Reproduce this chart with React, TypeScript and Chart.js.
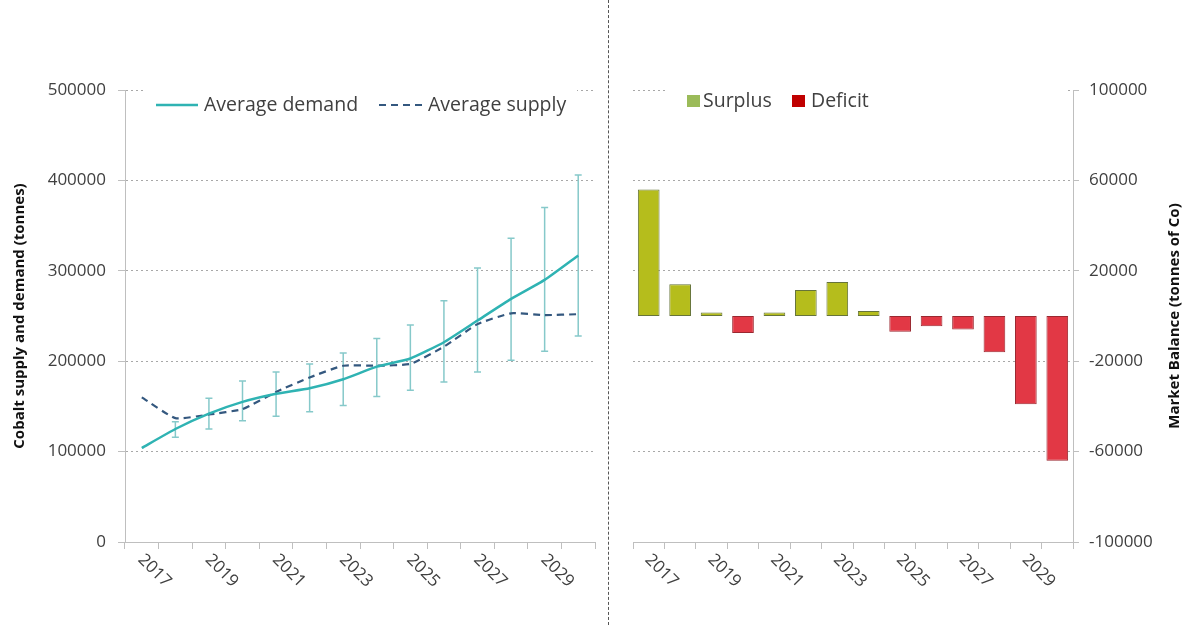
import React, { useEffect, useRef } from "react";
import { Chart, registerables } from "chart.js";

Chart.register(...registerables);

// ---------- data ----------
const years = ["2017", "2018", "2019", "2020", "2021", "2022", "2023", "2024", "2025", "2026", "2027", "2028", "2029", "2030"];
const shownYears = ["2017", "2019", "2021", "2023", "2025", "2027", "2029"];

const demand = [104000, 125000, 142000, 155000, 164000, 170000, 180000, 194000, 203000, 221000, 245000, 269000, 290000, 317000];
const supply = [160000, 137000, 141000, 147000, 166000, 182000, 195000, 195000, 197000, 216000, 241000, 253000, 251000, 252000];
const errLow = [null, 116000, 125000, 134000, 139000, 144000, 151000, 161000, 168000, 177000, 188000, 201000, 211000, 228000];
const errHigh = [null, 133000, 159000, 178000, 188000, 197000, 209000, 225000, 240000, 267000, 303000, 336000, 370000, 406000];

const balance = [56000, 14000, 1500, -7500, 1500, 11500, 15000, 2200, -7000, -4500, -6000, -16000, -39000, -64000];

const leftTitle = "Cobalt supply and demand (tonnes)";
const rightTitle = "Market Balance (tonnes of Co)";
const leftLegend = ["Average demand", "Average supply"];
const rightLegend = ["Surplus", "Deficit"];

// ---------- styles ----------
const FONT = '"Open Sans", "Noto Sans", sans-serif';
const TICK_COLOR = "#404040";
const AXIS_COLOR = "#bfbfbf";
const GRID_COLOR = "#a8a8a8";
const DEMAND_COLOR = "#2fb3b3";
const SUPPLY_COLOR = "#34587f";
const ERR_COLOR = "#86c9ca";
const SURPLUS_FILL = "#b5bd1c";
const SURPLUS_BORDER = "#66743a";
const DEFICIT_FILL = "#e23845";
const DEFICIT_BORDER = "#9a2830";

function drawXLabels(chart: any) {
  const { ctx } = chart;
  const xs = chart.scales.x;
  ctx.save();
  ctx.font = `17px ${FONT}`;
  ctx.fillStyle = TICK_COLOR;
  ctx.textAlign = "left";
  ctx.textBaseline = "middle";
  years.forEach((y, i) => {
    if (!shownYears.includes(y)) return;
    const x = xs.getPixelForValue(i);
    ctx.save();
    ctx.translate(x - 1, xs.top + 15);
    ctx.rotate(Math.PI / 4);
    ctx.fillText(y, 0, 0);
    ctx.restore();
  });
  ctx.restore();
}

function drawVTitle(chart: any, text: string, x: number) {
  const { ctx, chartArea } = chart;
  ctx.save();
  ctx.font = `bold 15px ${FONT}`;
  ctx.fillStyle = "#111";
  ctx.textAlign = "center";
  ctx.textBaseline = "middle";
  ctx.translate(x, (chartArea.top + chartArea.bottom) / 2);
  ctx.rotate(-Math.PI / 2);
  ctx.fillText(text, 0, 0);
  ctx.restore();
}

const errorBarPlugin = {
  id: "errorBars",
  beforeDatasetsDraw(chart: any) {
    const { ctx } = chart;
    const xs = chart.scales.x;
    const ys = chart.scales.y;
    ctx.save();
    ctx.strokeStyle = ERR_COLOR;
    ctx.lineWidth = 1.5;
    for (let i = 0; i < years.length; i++) {
      const lo = errLow[i];
      const hi = errHigh[i];
      if (lo == null || hi == null) continue;
      const x = xs.getPixelForValue(i);
      const y1 = ys.getPixelForValue(lo);
      const y2 = ys.getPixelForValue(hi);
      ctx.beginPath();
      ctx.moveTo(x, y1);
      ctx.lineTo(x, y2);
      ctx.moveTo(x - 3.5, y1);
      ctx.lineTo(x + 3.5, y1);
      ctx.moveTo(x - 3.5, y2);
      ctx.lineTo(x + 3.5, y2);
      ctx.stroke();
    }
    ctx.restore();
  },
};

const leftDecor = {
  id: "leftDecor",
  afterDraw(chart: any) {
    const { ctx } = chart;
    drawXLabels(chart);
    drawVTitle(chart, leftTitle, 20);
    // legend
    ctx.save();
    ctx.fillStyle = "#fff";
    ctx.fillRect(143, 80, 434, 40);
    const cy = 105;
    ctx.lineWidth = 2.5;
    ctx.strokeStyle = DEMAND_COLOR;
    ctx.beginPath();
    ctx.moveTo(156, cy);
    ctx.lineTo(198, cy);
    ctx.stroke();
    ctx.font = `19.5px ${FONT}`;
    ctx.fillStyle = TICK_COLOR;
    ctx.textBaseline = "middle";
    ctx.textAlign = "left";
    ctx.fillText(leftLegend[0], 204, cy);
    ctx.strokeStyle = SUPPLY_COLOR;
    ctx.lineWidth = 2.2;
    ctx.setLineDash([7, 5]);
    ctx.beginPath();
    ctx.moveTo(379, cy);
    ctx.lineTo(422, cy);
    ctx.stroke();
    ctx.setLineDash([]);
    ctx.fillText(leftLegend[1], 428, cy);
    ctx.restore();
  },
};

const rightDecor = {
  id: "rightDecor",
  afterDraw(chart: any) {
    const { ctx } = chart;
    drawXLabels(chart);
    drawVTitle(chart, rightTitle, 566);
    ctx.save();
    ctx.fillStyle = "#fff";
    ctx.fillRect(56, 80, 400, 40);
    const cy = 101;
    ctx.fillStyle = "#9bbb59";
    ctx.fillRect(78, 95, 13, 12);
    ctx.fillStyle = "#c00000";
    ctx.fillRect(183, 95, 13, 12);
    ctx.font = `19.5px ${FONT}`;
    ctx.fillStyle = TICK_COLOR;
    ctx.textBaseline = "middle";
    ctx.textAlign = "left";
    ctx.fillText(rightLegend[0], 94, cy);
    ctx.fillText(rightLegend[1], 202, cy);
    ctx.restore();
  },
};

const tickFont = { family: FONT, size: 17 };

export default function App() {
  const leftRef = useRef<HTMLCanvasElement>(null);
  const rightRef = useRef<HTMLCanvasElement>(null);

  useEffect(() => {
    const left = new Chart(leftRef.current as HTMLCanvasElement, {
      type: "line",
      data: {
        labels: years,
        datasets: [
          {
            label: leftLegend[0],
            data: demand,
            borderColor: DEMAND_COLOR,
            borderWidth: 2.5,
            pointRadius: 0,
            tension: 0.15,
            fill: false,
          },
          {
            label: leftLegend[1],
            data: supply,
            borderColor: SUPPLY_COLOR,
            borderWidth: 2.2,
            borderDash: [7, 5],
            pointRadius: 0,
            tension: 0.15,
            fill: false,
          },
        ],
      },
      options: {
        responsive: false,
        animation: false,
        layout: { padding: { top: 90, right: 14, left: 0, bottom: 0 } },
        plugins: { legend: { display: false }, tooltip: { enabled: false } },
        scales: {
          x: {
            offset: true,
            grid: { offset: true, drawOnChartArea: false, drawTicks: true, tickLength: 7, tickColor: AXIS_COLOR },
            border: { color: AXIS_COLOR, width: 1 },
            ticks: { display: false },
            afterFit: (s: any) => { s.height = 83; },
          },
          y: {
            min: 0,
            max: 500000,
            ticks: { stepSize: 100000, color: TICK_COLOR, font: tickFont, padding: 12, callback: (v: any) => String(v) },
            grid: {
              color: (c: any) => (c.tick && c.tick.value === 0 ? "rgba(0,0,0,0)" : GRID_COLOR),
              tickColor: AXIS_COLOR,
              tickLength: 7,
              tickBorderDash: [],
            },
            border: { color: AXIS_COLOR, width: 1, dash: [2, 3] },
            afterFit: (s: any) => { s.width = 125; },
          },
        },
      },
      plugins: [errorBarPlugin, leftDecor],
    } as any);

    const right = new Chart(rightRef.current as HTMLCanvasElement, {
      type: "bar",
      data: {
        labels: years,
        datasets: [
          {
            label: "Market balance",
            data: balance,
            backgroundColor: balance.map((v) => (v >= 0 ? SURPLUS_FILL : DEFICIT_FILL)),
            borderColor: balance.map((v) => (v >= 0 ? SURPLUS_BORDER : DEFICIT_BORDER)),
            borderWidth: 1,
            borderSkipped: false,
            barPercentage: 0.69,
            categoryPercentage: 1,
          },
        ],
      },
      options: {
        responsive: false,
        animation: false,
        layout: { padding: { top: 90, right: 0, left: 24, bottom: 0 } },
        plugins: { legend: { display: false }, tooltip: { enabled: false } },
        scales: {
          x: {
            offset: true,
            grid: { offset: true, drawOnChartArea: false, drawTicks: true, tickLength: 7, tickColor: AXIS_COLOR },
            border: { color: AXIS_COLOR, width: 1 },
            ticks: { display: false },
            afterFit: (s: any) => { s.height = 83; },
          },
          y: {
            position: "right",
            min: -100000,
            max: 100000,
            ticks: { stepSize: 40000, color: TICK_COLOR, font: tickFont, padding: 10, callback: (v: any) => String(v) },
            grid: {
              color: (c: any) => (c.tick && c.tick.value === -100000 ? "rgba(0,0,0,0)" : GRID_COLOR),
              tickColor: AXIS_COLOR,
              tickLength: 6,
              tickBorderDash: [],
            },
            border: { color: AXIS_COLOR, width: 1, dash: [2, 3] },
            afterFit: (s: any) => { s.width = 113; },
          },
        },
      },
      plugins: [rightDecor],
    } as any);

    return () => {
      left.destroy();
      right.destroy();
    };
  }, []);

  return (
    <div style={{ position: "fixed", left: 0, top: 0, width: 1186, height: 625, background: "#fff", overflow: "hidden" }}>
      <canvas ref={leftRef} width={609} height={625} style={{ position: "absolute", left: 0, top: 0, width: 609, height: 625 }} />
      <div style={{ position: "absolute", left: 608, top: 0, width: 0, height: 625, borderLeft: "1.5px dashed #555" }} />
      <canvas ref={rightRef} width={577} height={625} style={{ position: "absolute", left: 609, top: 0, width: 577, height: 625 }} />
    </div>
  );
}
